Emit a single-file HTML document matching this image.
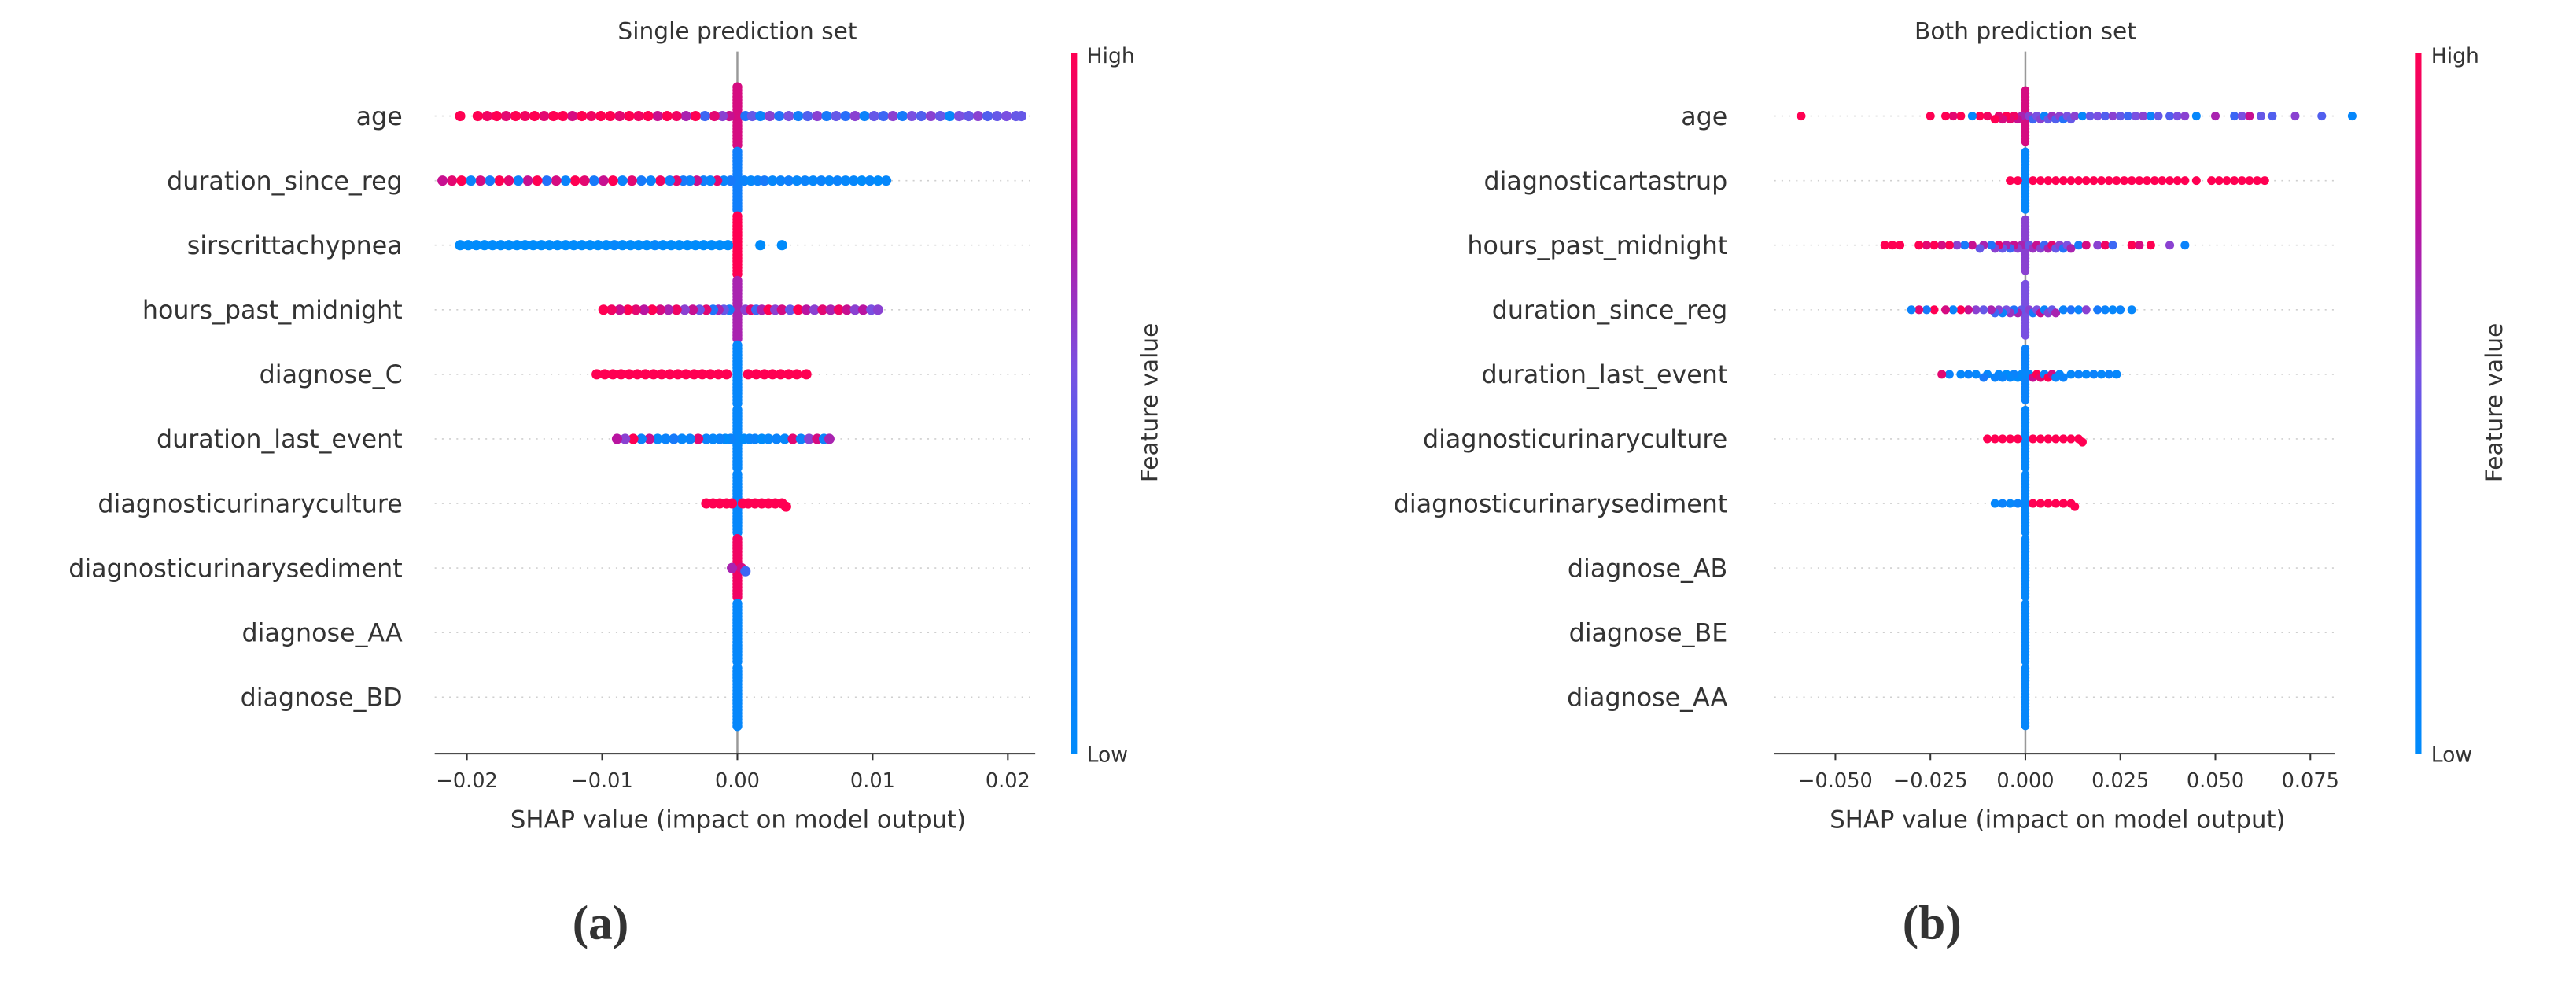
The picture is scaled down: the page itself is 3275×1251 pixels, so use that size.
<!DOCTYPE html>
<html><head><meta charset="utf-8">
<style>
html,body{margin:0;padding:0;background:#fff;}
svg{display:block;}
text{font-family:"DejaVu Sans","Liberation Sans",sans-serif;fill:#333;}
</style></head>
<body>
<svg id="fig" width="3275" height="1251" viewBox="0 0 1600 611" xmlns="http://www.w3.org/2000/svg">
</svg>
<script>
// ---------- DATA (SHAP values in units of 0.001) ----------
const featuresA = ["age","duration_since_reg","sirscrittachypnea","hours_past_midnight","diagnose_C","duration_last_event","diagnosticurinaryculture","diagnosticurinarysediment","diagnose_AA","diagnose_BD"];
const ticksA = [-20,-10,0,10,20];
const tickLabelsA = ["\u22120.02","\u22120.01","0.00","0.01","0.02"];
const shapA0 = [-20.5,-19.2,-18.5,-17.8,-17.1,-16.4,-15.7,-15,-14.3,-13.6,-12.9,-12.2,-11.5,-10.8,-10.1,-9.4,-8.7,-8,-7.3,-6.6,-5.9,-5.2,-4.5,-3.8,-3.1,-2.4,-1.7,-1.1,-0.6,0.6,1.1,1.7,2.4,3.1,3.8,4.5,5.2,5.9,6.6,7.3,8,8.7,9.4,10.1,10.8,11.5,12.2,12.9,13.6,14.3,15,15.7,16.4,17.1,17.8,18.5,19.2,19.9,20.6,21];
const featA0 = [1,1,0.95,1,0.9,1,0.95,1,0.9,1,1,0.85,1,0.95,1,1,0.9,1,0.95,1,0.8,1,0.95,0.7,1,0.4,0.9,0.6,0.8,0.3,0.5,0.1,0.6,0.3,0.55,0.15,0.45,0.6,0.2,0.5,0.35,0.6,0.1,0.5,0.4,0.6,0.2,0.55,0.45,0.6,0.5,0.05,0.55,0.5,0.6,0.45,0.5,0.55,0.5,0.5];
const shapA1 = [-21.8,-21.1,-20.4,-19.7,-19,-18.3,-17.6,-16.9,-16.2,-15.5,-14.8,-14.1,-13.4,-12.7,-12,-11.3,-10.6,-9.9,-9.2,-8.5,-7.8,-7.1,-6.4,-5.7,-5,-4.5,-4,-3.5,-3,-2.5,-2,-1.5,-1,-0.5,0.5,1,1.5,2,2.6,3.2,3.8,4.4,5,5.6,6.2,6.8,7.4,8,8.6,9.2,9.8,10.4,11];
const featA1 = [0.8,0.9,1,0.1,0.85,0.2,1,0.9,0.1,0.8,1,0.3,0.85,0.1,1,0.9,0.2,0.8,1,0.1,0.9,0.2,0.1,0.95,0.15,0.9,0.2,0.1,0.8,0.15,0.05,0.9,0.1,0.2,0.1,0.05,0.1,0.2,0.05,0.1,0.15,0.05,0.1,0.05,0.1,0.05,0.1,0.05,0.05,0,0.05,0,0.05];
const shapA2 = [-20.5,-19.9,-19.3,-18.7,-18.1,-17.5,-16.9,-16.3,-15.7,-15.1,-14.5,-13.9,-13.3,-12.7,-12.1,-11.5,-10.9,-10.3,-9.7,-9.1,-8.5,-7.9,-7.3,-6.7,-6.1,-5.5,-4.9,-4.3,-3.7,-3.1,-2.5,-1.9,-1.3,-0.7,1.7,3.3];
const featA2 = [0,0,0,0,0,0,0,0,0,0,0,0,0,0,0,0,0,0,0,0.05,0,0,0,0,0.05,0,0,0,0,0,0,0,0,0,0,0];
const shapA3 = [-9.9,-9.3,-8.7,-8.1,-7.5,-6.9,-6.3,-5.7,-5.1,-4.5,-3.9,-3.3,-2.8,-2.3,-1.8,-1.4,-1,-0.6,0.6,1,1.4,1.8,2.3,2.8,3.3,3.9,4.5,5.1,5.7,6.3,6.9,7.5,8.1,8.7,9.3,9.9,10.4];
const featA3 = [1,0.95,0.8,1,0.9,0.75,1,0.85,0.7,0.95,0.6,0.8,0.5,0.9,0.3,0.7,0.5,0.2,0.6,0.9,0.4,0.7,1,0.6,0.85,0.5,1,0.75,0.6,0.9,0.7,0.95,0.8,0.6,0.75,0.55,0.6];
const shapA4 = [-10.4,-9.8,-9.2,-8.6,-8,-7.4,-6.8,-6.2,-5.6,-5,-4.4,-3.8,-3.2,-2.6,-2,-1.4,-0.8,0.8,1.4,2,2.6,3.2,3.8,4.4,5.1];
const featA4 = [1,1,1,1,1,1,1,1,1,1,1,1,1,1,1,1,1,1,1,1,1,1,1,1,1];
const shapA5 = [-8.9,-8.3,-7.7,-7.1,-6.5,-5.9,-5.3,-4.7,-4.1,-3.5,-2.9,-2.3,-1.8,-1.3,-0.9,-0.5,0.5,0.9,1.3,1.8,2.3,2.9,3.5,4.1,4.7,5.3,5.9,6.4,6.8];
const featA5 = [0.75,0.6,1,0.1,0.8,0.05,0.1,0.2,0.05,0.1,0.9,0.1,0.05,0.1,0,0.1,0,0.05,0.1,0,0.05,0.1,0.05,0.9,0.1,0.6,0.85,0.1,0.7];
const shapA6 = [-2.3,-1.8,-1.3,-0.8,-0.4,0.4,0.8,1.3,1.8,2.3,2.8,3.3,3.6];
const featA6 = [1,1,1,1,1,1,1,1,1,1,1,1,1];
const shapA7 = [-0.4,0.3,0.6];
const featA7 = [0.7,0.85,0.4];
const shapA8 = [];
const featA8 = [];
const shapA9 = [];
const featA9 = [];
const spineNA = [9,9,9,9,9,9,9,9,9,9];
const spineFeatA = [0.85,0.15,1,0.7,0.05,0.05,0.05,0.95,0.05,0.05];

const featuresB = ["age","diagnosticartastrup","hours_past_midnight","duration_since_reg","duration_last_event","diagnosticurinaryculture","diagnosticurinarysediment","diagnose_AB","diagnose_BE","diagnose_AA"];
const ticksB = [-50,-25,0,25,50,75];
const tickLabelsB = ["\u22120.050","\u22120.025","0.000","0.025","0.050","0.075"];
const shapB0 = [-59,-25,-21,-19,-17,-14,-12,-10,-8,-7,-6,-5,-4,-3,-2,-1,1,2,3,4,5,6,7,8,9,10,11,12,13,15,17,19,21,23,25,27,29,31,33,35,38,40,42,45,50,55,57,59,62,65,71,78,86];
const featB0 = [1,1,1,0.9,1,0.05,1,0.95,1,0.9,0.85,1,0.9,0.95,0.8,0.7,0.6,0.4,0.55,0.6,0.1,0.5,0.65,0.45,0.6,0.3,0.55,0.5,0.6,0.05,0.5,0.55,0.45,0.6,0.5,0.4,0.55,0.6,0.1,0.5,0.45,0.55,0.6,0.05,0.7,0.4,0.55,0.8,0.5,0.45,0.6,0.45,0.05];
const shapB1 = [-4,-2,2,4,6,8,10,12,14,16,18,20,22,24,26,28,30,32,34,36,38,40,42,45,49,51,53,55,57,59,61,63];
const featB1 = [1,1,1,1,1,1,1,1,1,1,1,1,1,1,1,1,1,1,1,1,1,1,1,1,1,1,1,1,1,1,1,1];
const shapB2 = [-37,-35,-33,-28,-26,-24,-22,-20,-18,-16,-14,-12,-11,-9,-8,-7,-6,-5,-4,-3,-2,-1,1,2,3,4,5,6,7,8,9,10,11,12,14,16,19,21,23,28,30,33,38,42];
const featB2 = [1,1,1,1,0.9,1,0.85,1,0.6,0.2,0.8,0.5,0.7,0.3,0.6,0.9,0.5,0.7,0.4,0.8,0.6,0.7,0.5,0.65,0.8,0.6,0.4,0.7,0.9,0.5,0.6,0.3,0.55,0.7,0.2,0.85,0.6,0.95,0.4,1,0.85,1,0.6,0.1];
const shapB3 = [-30,-28,-26,-24,-21,-19,-17,-15,-13,-11,-9,-8,-7,-6,-5,-4,-3,-2,-1,1,2,3,4,5,6,7,8,10,12,14,16,19,21,23,25,28];
const featB3 = [0.1,0.9,0.2,1,0.85,0.1,1,0.8,0.6,0.5,0.7,0.4,0.6,0.1,0.55,0.65,0.3,0.7,0.5,0.6,0.2,0.55,0.8,0.1,0.6,0.5,0.7,0.1,0.3,0.1,0.6,0.2,0.1,0.05,0.1,0.05];
const shapB4 = [-22,-20,-17,-15,-13,-11,-10,-8,-7,-6,-5,-4,-3,-2,-1,1,2,3,4,5,6,7,8,9,10,12,14,16,18,20,22,24];
const featB4 = [0.9,0.1,0.05,0.1,0.05,0.2,0.05,0.1,0.05,0.1,0,0.05,0.1,0,0.05,0.05,0.8,1,0.9,0.1,1,0.85,0.1,0.05,0.1,0.05,0.1,0.05,0.1,0.05,0.1,0.05];
const shapB5 = [-10,-8,-6,-4,-2,2,4,6,8,10,12,14,15];
const featB5 = [1,1,1,1,1,1,1,1,1,1,1,1,1];
const shapB6 = [-8,-6,-4,-2,2,4,6,8,10,12,13];
const featB6 = [0.05,0.1,0.05,0.1,1,1,1,1,1,1,1];
const shapB7 = [];
const featB7 = [];
const shapB8 = [];
const featB8 = [];
const shapB9 = [];
const featB9 = [];
const spineNB = [8,9,8,8,8,9,9,9,9,9];
const spineFeatB = [0.85,0.05,0.6,0.55,0.1,0.05,0.05,0.05,0.05,0.05];

const shapA = [shapA0,shapA1,shapA2,shapA3,shapA4,shapA5,shapA6,shapA7,shapA8,shapA9];
const featA = [featA0,featA1,featA2,featA3,featA4,featA5,featA6,featA7,featA8,featA9];
const shapB = [shapB0,shapB1,shapB2,shapB3,shapB4,shapB5,shapB6,shapB7,shapB8,shapB9];
const featB = [featB0,featB1,featB2,featB3,featB4,featB5,featB6,featB7,featB8,featB9];

// ---------- RENDER ----------
const NS = "http://www.w3.org/2000/svg";
const svg = document.getElementById('fig');
function el(tag, attrs, parent, txt){
  const e = document.createElementNS(NS, tag);
  for (const k in attrs) e.setAttribute(k, attrs[k]);
  if (txt !== undefined) e.textContent = txt;
  (parent||svg).appendChild(e);
  return e;
}
const stops = [[0,[0,139,251]],[0.35,[40,110,250]],[0.55,[122,80,225]],[0.75,[185,20,160]],[1,[255,0,82]]];
function color(v){
  v = Math.max(0, Math.min(1, v));
  for (let i=1;i<stops.length;i++){
    if (v <= stops[i][0]){
      const a=stops[i-1], b=stops[i], t=(v-a[0])/(b[0]-a[0]);
      const c=a[1].map((x,j)=>Math.round(x+(b[1][j]-x)*t));
      return `rgb(${c[0]},${c[1]},${c[2]})`;
    }
  }
  return 'rgb(255,0,82)';
}
const defs = el('defs', {});
const grad = el('linearGradient', {id:'cbar', x1:'0', y1:'1', x2:'0', y2:'0'}, defs);
stops.forEach(s=>{ el('stop', {offset: s[0], 'stop-color': `rgb(${s[1].join(',')})`}, grad); });

function panel(cfg){
  const g = el('g', {});
  
  
  const xs = v => cfg.zeroX + v * cfg.pxPerUnit;
  const rowY = i => cfg.y0 + i * cfg.dy;
  const R = cfg.r, DY = 2.0, DX = cfg.dx;
  const t = el('text', {x: cfg.zeroX, y: 24, 'font-size': 14.5, 'text-anchor':'middle', fill:'#111'}, g, cfg.title);
  
  
  cfg.features.forEach((f, i) => {
    const y = rowY(i);
    const gl = el('line', {x1: cfg.axL, x2: cfg.axR, y1: y, y2: y, stroke:'#cfcfcf', 'stroke-width':0.8, 'stroke-dasharray':'1 3.5'}, g);
    
    
    const lb = el('text', {x: cfg.labelX, y: y + 5.5, 'font-size': 15.5, 'text-anchor':'end'}, g, f);
    
    
  });
  const zl = el('line', {x1: cfg.zeroX, x2: cfg.zeroX, y1: 32, y2: cfg.axY, stroke:'#999', 'stroke-width':1.2}, g);
  
  
  cfg.features.forEach((f, i) => {
    const y = rowY(i);
    // spine column at zero
    const n = cfg.spineN[i];
    for (let k = -n; k <= n; k++){
      const d = el('circle', {cx: xs(0), cy: y + k*DY, r: R*0.95, fill: color(cfg.spineFeat[i])}, g);
      
      
    }
    const placed = [];
    const pts = cfg.shap[i].map((v, k) => ({x: xs(v), c: cfg.feat[i][k]}));
    pts.sort((a,b)=>Math.abs(a.x-cfg.zeroX)-Math.abs(b.x-cfg.zeroX));
    pts.forEach(p => {
      let off = 0;
      for (let s = 0; s < 40; s++){
        const o = s===0?0:(s%2? Math.ceil(s/2) : -s/2);
        const clash = placed.some(q => q.o===o && Math.abs(q.x-p.x) < DX);
        if (!clash){ off = o; break; }
      }
      placed.push({x:p.x, o:off});
      const d = el('circle', {cx: p.x, cy: y + off*DY, r: R, fill: color(p.c)}, g);
      
      
    });
  });
  const ax = el('line', {x1: cfg.axL, x2: cfg.axR, y1: cfg.axY, y2: cfg.axY, stroke:'#333', 'stroke-width':1}, g);
  
  
  cfg.ticks.forEach((tv, k) => {
    const x = xs(tv);
    const tk = el('line', {x1:x, x2:x, y1:cfg.axY, y2:cfg.axY+4, stroke:'#333', 'stroke-width':1}, g);
    
    
    const tl = el('text', {x:x, y:cfg.axY+21, 'font-size':12.5, 'text-anchor':'middle'}, g, cfg.tickLabels[k]);
    
    
  });
  const at = el('text', {x:(cfg.axL+cfg.axR)/2 + 2, y:cfg.axY+46, 'font-size':15, 'text-anchor':'middle', fill:'#111'}, g, 'SHAP value (impact on model output)');
  
  
  const cb = el('rect', {x: cfg.cbX, y: 33, width: 4, height: cfg.axY-33, fill:'url(#cbar)'}, g);
  
  
  const hi = el('text', {x: cfg.cbX+10, y: 39, 'font-size':13}, g, 'High');
  
  
  const lo = el('text', {x: cfg.cbX+10, y: cfg.axY+5, 'font-size':13}, g, 'Low');
  
  
  const fv = el('text', {x: 0, y: 0, 'font-size':14.5, 'text-anchor':'middle', transform:`translate(${cfg.cbX+54},250) rotate(-90)`}, g, 'Feature value');
  
  
  const pl = el('text', {x: cfg.letterX, y: 583, 'font-size':30, 'text-anchor':'middle', style:'font-family:"Liberation Serif",serif;font-weight:bold', fill:'#000'}, g, cfg.letter);
  
  
}

panel({name:'panel-a-single-prediction', title:'Single prediction set', features:featuresA, shap:shapA, feat:featA,
  spineN:spineNA, spineFeat:spineFeatA, ticks:ticksA, tickLabels:tickLabelsA, r:3.2, dx:3.0,
  zeroX:458, pxPerUnit:8.4, axL:270, axR:643, axY:468, y0:72, dy:40.1, labelX:250, cbX:665, letterX:373, letter:'(a)'});
panel({name:'panel-b-both-prediction', title:'Both prediction set', features:featuresB, shap:shapB, feat:featB,
  spineN:spineNB, spineFeat:spineFeatB, ticks:ticksB, tickLabels:tickLabelsB, r:2.7, dx:4.2,
  zeroX:1258, pxPerUnit:2.36, axL:1102, axR:1450, axY:468, y0:72, dy:40.1, labelX:1073, cbX:1500, letterX:1200, letter:'(b)'});
</script>
</body></html>
